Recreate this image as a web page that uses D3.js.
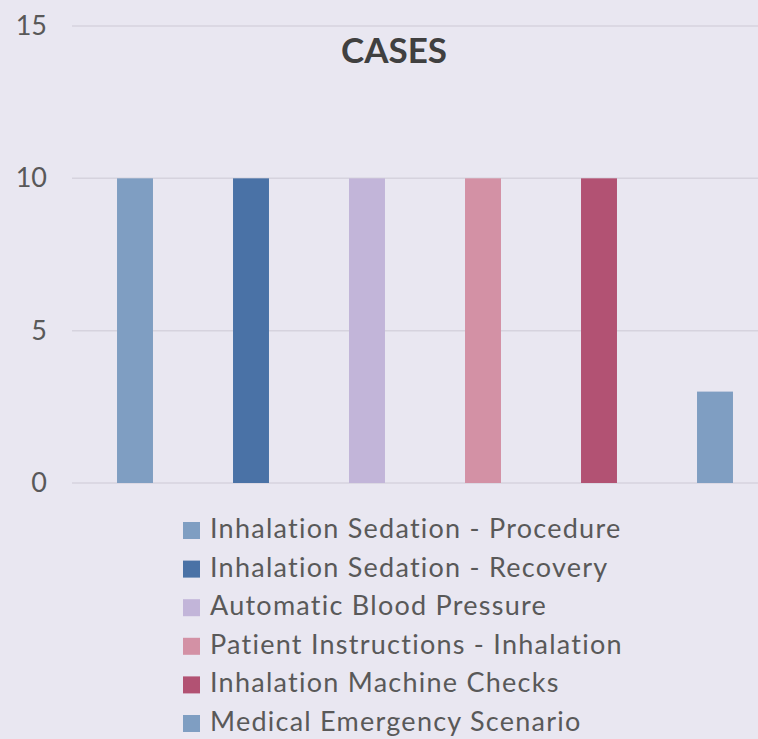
<!DOCTYPE html>
<html>
<head>
<meta charset="utf-8">
<script src="https://cdn.jsdelivr.net/npm/d3@7"></script>
<style>
  html, body { margin: 0; padding: 0; background: #e9e7f1; }
  svg { display: block; }
</style>
</head>
<body>
<div id="chart"></div>
<script>
"use strict";

// series shown as one bar each
var categories = [
    "Inhalation Sedation - Procedure",
    "Inhalation Sedation - Recovery",
    "Automatic Blood Pressure",
    "Patient Instructions - Inhalation",
    "Inhalation Machine Checks",
    "Medical Emergency Scenario"
];
var values = [10, 10, 10, 10, 10, 3];
var colors = ["#7f9ec2", "#4a72a6", "#c2b5d9", "#d391a5", "#b25273", "#7f9ec2"];
var yTicks = [0, 5, 10, 15];
var title = "CASES";

var width = 758, height = 739;
var font = "Lato, 'Open Sans', sans-serif";

var svg = d3.select("#chart").append("svg")
    .attr("width", width)
    .attr("height", height);

svg.append("rect")
    .attr("width", width)
    .attr("height", height)
    .attr("fill", "#e9e7f1");

var xScale = d3.scaleBand()
    .domain(categories)
    .range([77, 773])
    .paddingInner(0.69)
    .paddingOuter(0.345);

var yScale = d3.scaleLinear()
    .domain([0, 15])
    .range([483, 26]);

// gridlines
svg.append("g")
    .selectAll("line")
    .data(yTicks)
    .enter()
    .append("line")
    .attr("x1", 72)
    .attr("x2", width)
    .attr("y1", function (d) { return yScale(d); })
    .attr("y2", function (d) { return yScale(d); })
    .style("stroke", "#d6d3de")
    .style("stroke-width", 1.5);

// y axis labels
var yAxis = svg.append("g")
    .attr("transform", "translate(47,0)")
    .call(d3.axisLeft(yScale).tickValues(yTicks).tickSize(0).tickPadding(0));
yAxis.select(".domain").remove();
yAxis.selectAll("text")
    .style("font-family", font)
    .style("font-size", "27px")
    .style("fill", "#595959");

// bars
svg.append("g")
    .selectAll("rect")
    .data(values)
    .enter()
    .append("rect")
    .attr("x", function (d, i) { return xScale(categories[i]); })
    .attr("y", function (d) { return yScale(d); })
    .attr("width", xScale.bandwidth())
    .attr("height", function (d) { return yScale(0) - yScale(d); })
    .style("fill", function (d, i) { return colors[i]; });

// title
svg.append("text")
    .attr("x", 394)
    .attr("y", 63)
    .attr("text-anchor", "middle")
    .style("font-family", font)
    .style("font-weight", "bold")
    .style("font-size", "35px")
    .style("fill", "#404040")
    .text(title);

// legend
var legend = svg.append("g")
    .selectAll("g")
    .data(categories)
    .enter()
    .append("g")
    .attr("transform", function (d, i) { return "translate(183," + (538 + i * 38.6) + ")"; });

legend.append("rect")
    .attr("x", 0)
    .attr("y", -16)
    .attr("width", 17)
    .attr("height", 17)
    .style("fill", function (d, i) { return colors[i]; });

legend.append("text")
    .attr("x", 27)
    .attr("y", 0)
    .style("font-family", font)
    .style("font-size", "27px")
    .style("letter-spacing", "1.25px")
    .style("fill", "#595959")
    .text(function (d) { return d; });
</script>
</body>
</html>
